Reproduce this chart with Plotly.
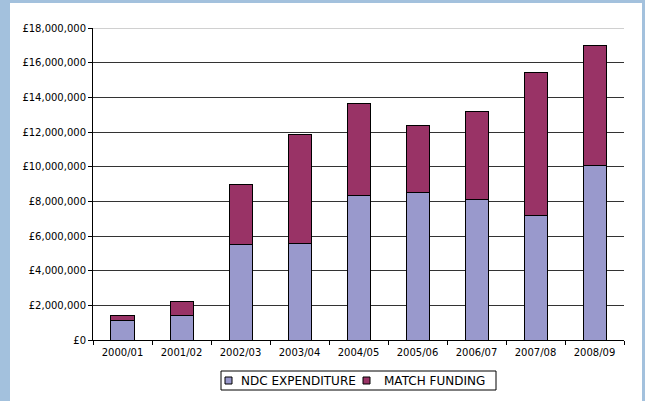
import plotly.graph_objects as go

years = ["2000/01", "2001/02", "2002/03", "2003/04", "2004/05", "2005/06", "2006/07", "2007/08", "2008/09"]
ndc_expenditure = [1100000, 1420000, 5500000, 5560000, 8330000, 8520000, 8080000, 7170000, 10040000]
match_funding = [300000, 810000, 3460000, 6320000, 5340000, 3850000, 5090000, 8270000, 6940000]
series_names = ["NDC EXPENDITURE", "MATCH FUNDING"]
series_colors = ["#9999cc", "#993366"]
y_ticks = [0, 2000000, 4000000, 6000000, 8000000, 10000000, 12000000, 14000000, 16000000, 18000000]
y_tick_labels = ["£0", "£2,000,000", "£4,000,000", "£6,000,000", "£8,000,000", "£10,000,000",
                 "£12,000,000", "£14,000,000", "£16,000,000", "£18,000,000"]

FONT = "DejaVu Sans"

fig = go.Figure()
for name, vals, col in zip(series_names, [ndc_expenditure, match_funding], series_colors):
    fig.add_trace(go.Bar(x=years, y=vals, name=name,
                         marker=dict(color=col, line=dict(color="#000000", width=1))))

W, H = 645, 401
L, R, T, B = 93, 21, 28, 61
pw, ph = W - L - R, H - T - B

def px_x(p):
    return (p - L) / pw

def px_y(p):
    return (H - B - p) / ph

shapes = [
    dict(type="rect", xref="paper", yref="paper", layer="below",
         x0=px_x(10), x1=px_x(642), y0=px_y(402), y1=px_y(3),
         fillcolor="#ffffff", line=dict(width=0)),
    dict(type="line", xref="paper", yref="y", layer="above",
         x0=0, x1=1, y0=18000000, y1=18000000,
         line=dict(color="#c0c0c0", width=1.5)),
    # legend box
    dict(type="rect", xref="paper", yref="paper", layer="above",
         x0=px_x(221), x1=px_x(496), y0=px_y(390), y1=px_y(371),
         fillcolor="#ffffff", line=dict(color="#000000", width=1)),
]
annotations = []
legend_sq_x = [225, 363]
legend_txt_x = [239, 382]
for name, col, sx, tx in zip(series_names, series_colors, legend_sq_x, legend_txt_x):
    shapes.append(dict(type="rect", xref="paper", yref="paper", layer="above",
                       x0=px_x(sx), x1=px_x(sx + 7), y0=px_y(384), y1=px_y(377),
                       fillcolor=col, line=dict(color="#000000", width=1)))
    annotations.append(dict(text=name, xref="paper", yref="paper", showarrow=False,
                            x=px_x(tx), y=px_y(380.5), xanchor="left", yanchor="middle",
                            font=dict(family=FONT, size=12, color="#000000")))

fig.update_layout(
    width=W, height=H,
    barmode="stack", bargap=0.61,
    paper_bgcolor="#a3c1dd", plot_bgcolor="rgba(0,0,0,0)",
    margin=dict(l=L, r=R, t=T, b=B, autoexpand=False),
    font=dict(family=FONT, size=10, color="#000000"),
    showlegend=False,
    shapes=shapes,
    annotations=annotations,
)
fig.update_xaxes(showline=True, linecolor="#000000", linewidth=1,
                 ticks="outside", tickson="boundaries", ticklen=4, tickcolor="#000000",
                 showgrid=False, tickfont=dict(family=FONT, size=10), ticklabelstandoff=3)
fig.update_yaxes(range=[0, 18000000], tickvals=y_ticks, ticktext=y_tick_labels,
                 showline=True, linecolor="#000000", linewidth=1,
                 ticks="outside", ticklen=4, tickcolor="#000000",
                 showgrid=True, gridcolor="#333333", gridwidth=1, zeroline=False,
                 tickfont=dict(family=FONT, size=10))

fig.write_html("out.html", config={"displayModeBar": False},
               post_script="document.body.style.margin='0';document.body.style.overflow='hidden';")
